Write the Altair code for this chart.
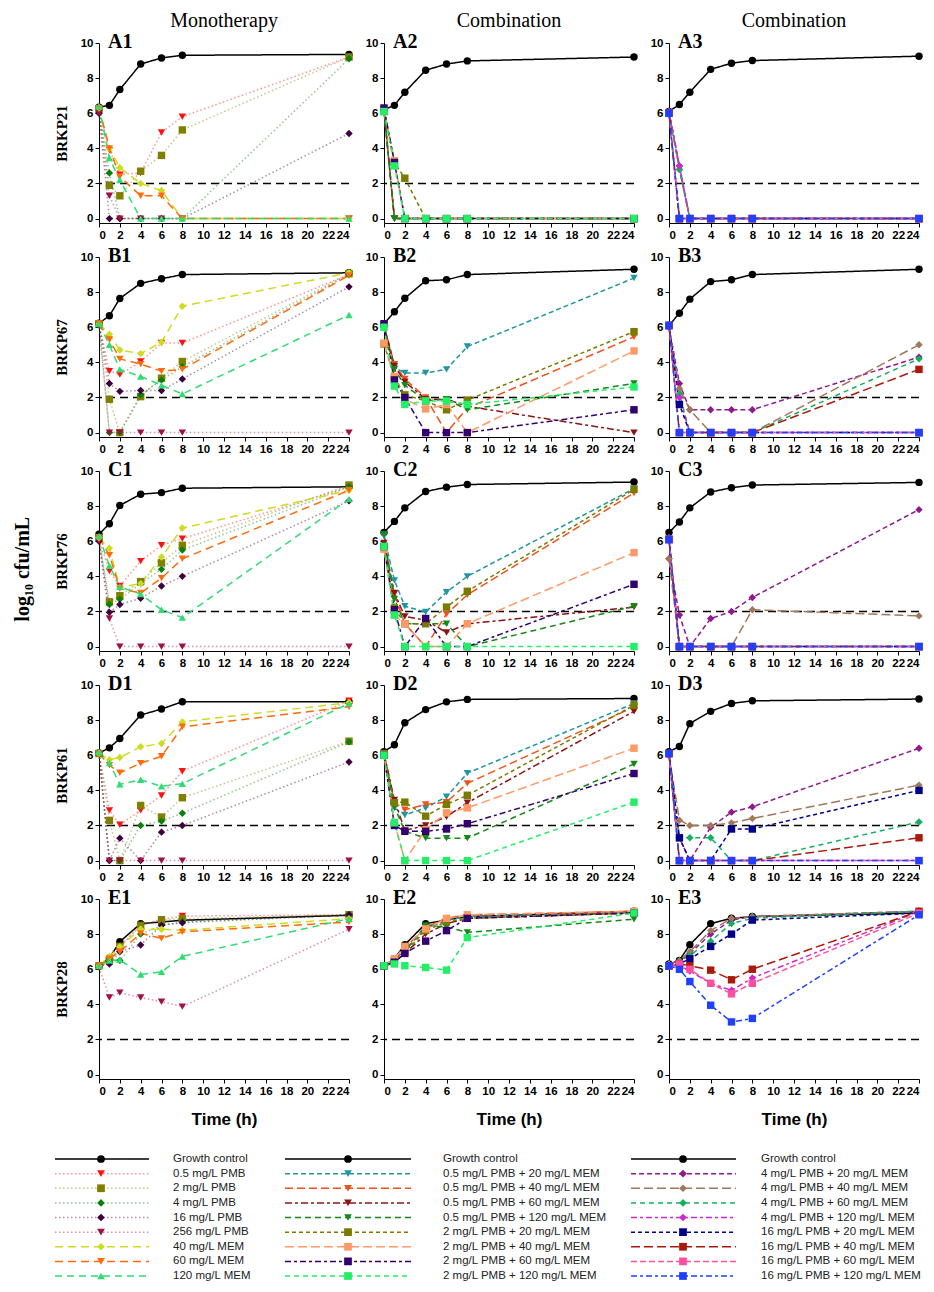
import altair as alt
import pandas as pd

# ---------------- data ----------------
T = [0, 1, 2, 4, 6, 8, 24]
X_TICKS = [0, 2, 4, 6, 8, 10, 12, 14, 16, 18, 20, 22, 24]
Y_TICKS = [0, 2, 4, 6, 8, 10]
THRESHOLD = [2]

MONO = ["Growth control", "0.5 mg/L PMB", "2 mg/L PMB", "4 mg/L PMB", "16 mg/L PMB",
        "256 mg/L PMB", "40 mg/L MEM", "60 mg/L MEM", "120 mg/L MEM"]
COMBO_LOW = ["Growth control", "0.5 mg/L PMB + 20 mg/L MEM", "0.5 mg/L PMB + 40 mg/L MEM",
             "0.5 mg/L PMB + 60 mg/L MEM", "0.5 mg/L PMB + 120 mg/L MEM",
             "2 mg/L PMB + 20 mg/L MEM", "2 mg/L PMB + 40 mg/L MEM",
             "2 mg/L PMB + 60 mg/L MEM", "2 mg/L PMB + 120 mg/L MEM"]
COMBO_HIGH = ["Growth control", "4 mg/L PMB + 20 mg/L MEM", "4 mg/L PMB + 40 mg/L MEM",
              "4 mg/L PMB + 60 mg/L MEM", "4 mg/L PMB + 120 mg/L MEM",
              "16 mg/L PMB + 20 mg/L MEM", "16 mg/L PMB + 40 mg/L MEM",
              "16 mg/L PMB + 60 mg/L MEM", "16 mg/L PMB + 120 mg/L MEM"]

ROW_LABELS = ["BRKP21", "BRKP67", "BRKP76", "BRKP61", "BRKP28"]
ROW_LETTERS = ["A", "B", "C", "D", "E"]
COL_TITLES = ["Monotherapy", "Combination", "Combination"]

# values in order of MONO / COMBO_LOW / COMBO_HIGH
A1 = [[6.35, 6.45, 7.35, 8.8, 9.15, 9.3, 9.35],
      [6.2, 3.9, 2.5, 2.6, 4.9, 5.8, 9.2],
      [6.2, 1.9, 1.3, 2.7, 3.6, 5.05, 9.2],
      [6.2, 2.6, 0, 0, 0, 0, 9.1],
      [6.0, 0, 0, 0, 0, 0, 4.85],
      [6.0, 1.3, 0, 0, 0, 0, 0],
      [6.3, 4.0, 2.9, 2.0, 1.6, 0, 0],
      [6.3, 4.0, 2.4, 1.3, 1.3, 0, 0],
      [6.4, 3.45, 2.2, 0, 0, 0, 0]]
A2 = [[6.2, 6.45, 7.2, 8.45, 8.8, 8.98, 9.2],
      [6.2, 0, 0, 0, 0, 0, 0],
      [6.2, 0, 0, 0, 0, 0, 0],
      [6.2, 0, 0, 0, 0, 0, 0],
      [6.1, 0, 0, 0, 0, 0, 0],
      [6.1, 3.2, 2.3, 0, 0, 0, 0],
      [6.2, 3.3, 0, 0, 0, 0, 0],
      [6.3, 3.2, 0, 0, 0, 0, 0],
      [6.1, 3.0, 0, 0, 0, 0, 0]]
A3 = [[6.1, 6.5, 7.2, 8.5, 8.85, 9.0, 9.25],
      [6.1, 3.0, 0, 0, 0, 0, 0],
      [6.1, 2.8, 0, 0, 0, 0, 0],
      [6.0, 2.8, 0, 0, 0, 0, 0],
      [6.1, 3.0, 0, 0, 0, 0, 0],
      [6.0, 0, 0, 0, 0, 0, 0],
      [6.0, 0, 0, 0, 0, 0, 0],
      [6.0, 0, 0, 0, 0, 0, 0],
      [6.0, 0, 0, 0, 0, 0, 0]]
B1 = [[6.23, 6.65, 7.64, 8.5, 8.76, 9.0, 9.1],
      [6.2, 3.5, 3.3, 4.05, 5.1, 5.1, 9.0],
      [6.2, 1.9, 0, 2.05, 3.1, 4.05, 9.05],
      [6.2, 0, 0, 2.15, 3.0, 3.75, 9.0],
      [6.2, 2.8, 2.35, 2.4, 2.4, 3.05, 8.3],
      [6.1, 0, 0, 0, 0, 0, 0],
      [6.2, 5.6, 4.7, 4.5, 5.15, 7.2, 9.1],
      [6.2, 5.3, 4.2, 3.9, 3.5, 3.6, 8.95],
      [6.2, 5.0, 3.6, 3.2, 2.7, 2.2, 6.7]]
B2 = [[6.2, 6.88, 7.65, 8.65, 8.7, 9.0, 9.3],
      [6.1, 3.7, 3.4, 3.4, 3.6, 4.9, 8.8],
      [6.1, 3.9, 3.05, 2.0, 0, 1.4, 5.45],
      [6.1, 3.8, 2.9, 1.9, 1.9, 1.5, 0],
      [6.0, 3.6, 2.7, 1.8, 1.9, 1.3, 2.8],
      [5.05, 3.15, 2.15, 1.8, 1.3, 1.85, 5.75],
      [5.1, 3.2, 1.9, 1.35, 1.6, 0, 4.65],
      [6.2, 3.0, 2.0, 0, 0, 0, 1.3],
      [6.0, 2.65, 1.6, 1.8, 1.8, 1.6, 2.6]]
B3 = [[6.1, 6.8, 7.6, 8.6, 8.7, 9.0, 9.3],
      [6.0, 2.8, 1.3, 1.3, 1.3, 1.3, 4.3],
      [6.0, 2.5, 1.3, 0, 0, 0, 5.0],
      [6.0, 2.2, 0, 0, 0, 0, 4.2],
      [6.0, 2.0, 0, 0, 0, 0, 0],
      [6.1, 1.6, 0, 0, 0, 0, 0],
      [6.1, 0, 0, 0, 0, 0, 3.6],
      [6.1, 0, 0, 0, 0, 0, 0],
      [6.1, 0, 0, 0, 0, 0, 0]]
C1 = [[6.4, 7.0, 8.04, 8.68, 8.77, 9.02, 9.1],
      [6.1, 4.3, 3.45, 4.87, 5.77, 6.15, 9.1],
      [6.2, 2.55, 2.9, 3.7, 4.77, 5.77, 9.2],
      [6.1, 2.4, 2.7, 3.6, 4.4, 5.5, 9.1],
      [6.0, 1.95, 2.4, 2.75, 3.45, 4.0, 8.3],
      [6.0, 1.6, 0, 0, 0, 0, 0],
      [6.2, 5.6, 3.35, 3.6, 5.1, 6.75, 8.9],
      [6.2, 5.2, 3.3, 3.05, 3.9, 5.0, 8.9],
      [6.3, 4.6, 3.4, 3.0, 2.1, 1.65, 8.4]]
C2 = [[6.5, 7.13, 7.9, 8.83, 9.08, 9.23, 9.37],
      [6.3, 3.77, 2.3, 1.97, 3.1, 4.0, 9.0],
      [5.6, 3.0, 1.3, 0, 1.85, 2.95, 8.75],
      [5.9, 3.05, 1.72, 1.5, 0.8, 1.3, 2.25],
      [6.4, 2.7, 1.3, 1.3, 1.3, 0, 2.3],
      [5.7, 2.2, 1.3, 1.3, 2.25, 3.15, 8.95],
      [5.55, 1.8, 1.3, 0, 0, 1.3, 5.35],
      [5.7, 2.1, 0, 1.6, 0, 0, 3.55],
      [5.7, 1.8, 0, 0, 0, 0, 0]]
C3 = [[6.5, 7.1, 7.9, 8.8, 9.05, 9.2, 9.35],
      [5.0, 1.8, 0, 1.6, 2.0, 2.8, 7.8],
      [5.0, 0, 0, 0, 0, 2.1, 1.75],
      [6.2, 0, 0, 0, 0, 0, 0],
      [6.2, 0, 0, 0, 0, 0, 0],
      [6.1, 0, 0, 0, 0, 0, 0],
      [6.1, 0, 0, 0, 0, 0, 0],
      [6.1, 0, 0, 0, 0, 0, 0],
      [6.1, 0, 0, 0, 0, 0, 0]]
D1 = [[6.13, 6.42, 6.95, 8.29, 8.63, 9.05, 9.05],
      [6.1, 2.86, 2.04, 2.86, 3.71, 5.09, 9.1],
      [6.1, 2.29, 0, 3.14, 2.48, 3.58, 6.8],
      [6.1, 0, 0, 2.0, 2.25, 2.7, 6.76],
      [6.1, 0, 1.28, 0, 1.62, 2.0, 5.62],
      [6.1, 0, 0, 0, 0, 0, 0],
      [6.1, 5.75, 5.87, 6.48, 6.67, 7.9, 9.0],
      [6.1, 5.43, 5.0, 5.55, 5.94, 7.62, 8.76],
      [6.2, 5.56, 4.34, 4.6, 4.23, 4.38, 8.95]]
D2 = [[6.2, 6.6, 7.85, 8.6, 9.04, 9.18, 9.23],
      [6.1, 3.0, 2.6, 3.0, 3.64, 4.98, 8.95],
      [6.1, 3.3, 2.9, 3.2, 3.33, 4.4, 8.75],
      [6.1, 3.45, 1.72, 2.0, 2.5, 3.3, 8.5],
      [6.0, 3.07, 1.67, 1.28, 1.28, 1.28, 5.5],
      [6.1, 3.3, 3.33, 2.53, 3.2, 3.72, 8.85],
      [6.0, 2.15, 0, 1.76, 2.72, 3.0, 6.4],
      [6.0, 2.0, 1.67, 1.67, 1.8, 2.1, 4.96],
      [6.0, 2.15, 0, 0, 0, 0, 3.33]]
D3 = [[6.2, 6.5, 7.8, 8.5, 8.95, 9.1, 9.2],
      [6.1, 1.3, 0, 1.9, 2.76, 3.06, 6.4],
      [6.0, 2.3, 2.0, 2.0, 2.15, 2.4, 4.3],
      [6.0, 1.3, 1.3, 1.3, 0, 0, 2.2],
      [6.0, 0, 0, 0, 0, 0, 0],
      [6.1, 1.3, 0, 0, 1.8, 1.8, 4.0],
      [6.1, 0, 0, 0, 0, 0, 1.3],
      [6.1, 0, 0, 0, 0, 0, 0],
      [6.1, 0, 0, 0, 0, 0, 0]]
E1 = [[6.17, 6.64, 7.57, 8.6, 8.69, 8.79, 9.07],
      [6.1, 6.4, 7.3, 8.5, 8.84, 9.03, 9.1],
      [6.2, 6.5, 7.3, 8.5, 8.8, 8.88, 9.1],
      [6.2, 6.4, 6.5, 8.0, 8.5, 8.7, 9.1],
      [6.2, 6.3, 7.0, 7.38, 8.5, 8.65, 9.1],
      [6.1, 4.39, 4.67, 4.39, 4.15, 3.87, 8.28],
      [6.2, 6.73, 7.29, 8.28, 8.28, 8.22, 8.88],
      [6.2, 6.6, 7.0, 8.04, 7.76, 8.13, 8.69],
      [6.2, 6.49, 6.54, 5.7, 5.85, 6.73, 8.88]]
E2 = [[6.2, 6.6, 7.4, 8.6, 8.8, 9.0, 9.3],
      [6.2, 6.5, 7.1, 8.3, 8.8, 9.0, 9.25],
      [6.2, 6.6, 7.2, 8.4, 8.9, 9.1, 9.3],
      [6.2, 6.4, 6.9, 8.0, 8.6, 8.9, 9.2],
      [6.2, 6.5, 7.0, 8.5, 8.4, 8.1, 8.85],
      [6.2, 6.5, 7.0, 8.2, 8.7, 8.9, 9.2],
      [6.2, 6.6, 7.3, 8.3, 8.9, 9.1, 9.3],
      [6.2, 6.4, 6.9, 7.6, 8.2, 8.9, 9.2],
      [6.2, 6.3, 6.2, 6.1, 5.95, 7.8, 9.2]]
E3 = [[6.3, 6.5, 7.4, 8.6, 8.9, 9.0, 9.2],
      [6.3, 6.4, 6.9, 8.0, 8.8, 9.0, 9.3],
      [6.3, 6.5, 7.0, 8.2, 8.9, 9.0, 9.3],
      [6.2, 6.4, 6.8, 7.6, 8.6, 8.9, 9.3],
      [6.2, 6.2, 5.9, 5.2, 4.8, 5.5, 9.3],
      [6.2, 6.3, 6.6, 7.3, 8.0, 8.8, 9.2],
      [6.2, 6.3, 6.2, 5.95, 5.4, 6.0, 9.3],
      [6.2, 6.3, 6.0, 5.2, 4.6, 5.2, 9.2],
      [6.2, 6.0, 5.3, 3.95, 3.0, 3.2, 9.1]]

PANELS = [[A1, A2, A3], [B1, B2, B3], [C1, C2, C3], [D1, D2, D3], [E1, E2, E3]]
COL_SERIES = [MONO, COMBO_LOW, COMBO_HIGH]

# ---------------- styles ----------------
DOT = [1.5, 2.5]
STYLE = {
    "Growth control": ("#000000", "circle", [1, 0], 1.0),
    "0.5 mg/L PMB": ("#ff1010", "triangle-down", DOT, 0.45),
    "2 mg/L PMB": ("#7f7f00", "square", DOT, 0.45),
    "4 mg/L PMB": ("#0a800a", "diamond", DOT, 0.45),
    "16 mg/L PMB": ("#3f0040", "diamond", DOT, 0.45),
    "256 mg/L PMB": ("#a01040", "triangle-down", DOT, 0.45),
    "40 mg/L MEM": ("#cddc22", "diamond", [8, 5], 1.0),
    "60 mg/L MEM": ("#ff6a0a", "triangle-down", [8, 5], 1.0),
    "120 mg/L MEM": ("#2fdc72", "triangle-up", [7, 5], 1.0),
    "0.5 mg/L PMB + 20 mg/L MEM": ("#2196a0", "triangle-down", [5, 3], 1.0),
    "0.5 mg/L PMB + 40 mg/L MEM": ("#f0501a", "triangle-down", [8, 4], 1.0),
    "0.5 mg/L PMB + 60 mg/L MEM": ("#8c1414", "triangle-down", [7, 3, 3, 3], 1.0),
    "0.5 mg/L PMB + 120 mg/L MEM": ("#16881a", "triangle-down", [6, 4], 1.0),
    "2 mg/L PMB + 20 mg/L MEM": ("#7a7a00", "square", [4, 3], 1.0),
    "2 mg/L PMB + 40 mg/L MEM": ("#ff9966", "square", [9, 4], 1.0),
    "2 mg/L PMB + 60 mg/L MEM": ("#330070", "square", [6, 3, 3, 3], 1.0),
    "2 mg/L PMB + 120 mg/L MEM": ("#22ee66", "square", [5, 4], 1.0),
    "4 mg/L PMB + 20 mg/L MEM": ("#8e1a8e", "diamond", [5, 3], 1.0),
    "4 mg/L PMB + 40 mg/L MEM": ("#a0785a", "diamond", [9, 4], 1.0),
    "4 mg/L PMB + 60 mg/L MEM": ("#12b060", "diamond", [5, 4], 1.0),
    "4 mg/L PMB + 120 mg/L MEM": ("#cc2acc", "diamond", [6, 3, 3, 3], 1.0),
    "16 mg/L PMB + 20 mg/L MEM": ("#000088", "square", [4, 3], 1.0),
    "16 mg/L PMB + 40 mg/L MEM": ("#aa1a0a", "square", [9, 4], 1.0),
    "16 mg/L PMB + 60 mg/L MEM": ("#ff4fa0", "square", [6, 3], 1.0),
    "16 mg/L PMB + 120 mg/L MEM": ("#2040ff", "square", [6, 3, 3, 3], 1.0),
}
ALL = list(STYLE.keys())
COLOR_ENC = alt.Color("series:N", scale=alt.Scale(domain=ALL, range=[STYLE[k][0] for k in ALL]), legend=None)
SHAPE_ENC = alt.Shape("series:N", scale=alt.Scale(domain=ALL, range=[STYLE[k][1] for k in ALL]), legend=None)
DASH_ENC = alt.StrokeDash("series:N", scale=alt.Scale(domain=ALL, range=[STYLE[k][2] for k in ALL]), legend=None)
OPAC_ENC = alt.Opacity("lop:Q", scale=None)

SANS = "Liberation Sans"
SERIF = "Liberation Serif"
W, H = 250, 180


def panel(r, c):
    names = COL_SERIES[c]
    vals = PANELS[r][c]
    recs = []
    for name, series in zip(names, vals):
        for t, v in zip(T, series):
            recs.append({"series": name, "t": t, "v": v, "lop": STYLE[name][3]})
    df = pd.DataFrame(recs)
    last = r == len(ROW_LABELS) - 1
    x = alt.X("t:Q", scale=alt.Scale(domain=[0, 24], nice=False),
              axis=alt.Axis(values=X_TICKS, title="Time (h)" if last else None,
                            titleFont=SANS, titleFontSize=17, titleFontWeight="bold",
                            titleColor="black", titlePadding=15))
    y = alt.Y("v:Q", scale=alt.Scale(domain=[-0.25, 10], nice=False),
              axis=alt.Axis(values=Y_TICKS, title=ROW_LABELS[r] if c == 0 else None,
                            titleFont=SERIF, titleFontSize=15, titleFontWeight="bold",
                            titleColor="black", titlePadding=11))
    rule = alt.Chart(pd.DataFrame({"v": THRESHOLD})).mark_rule(
        color="black", strokeDash=[8, 5], strokeWidth=1.4).encode(y=y)
    lines = alt.Chart(df).mark_line(strokeWidth=1.5).encode(
        x=x, y=y, color=COLOR_ENC, strokeDash=DASH_ENC, opacity=OPAC_ENC, detail="series:N")
    pts = alt.Chart(df).mark_point(filled=True, size=55, opacity=1).encode(
        x=x, y=y, color=COLOR_ENC, shape=SHAPE_ENC)
    lab = alt.Chart(pd.DataFrame({"label": [ROW_LETTERS[r] + str(c + 1)]})).mark_text(
        font=SERIF, fontWeight="bold", fontSize=20, align="left", baseline="middle", color="black"
    ).encode(x=alt.value(9), y=alt.value(-1), text="label:N")
    ch = alt.layer(rule, lines, pts, lab).properties(width=W, height=H)
    if r == 0:
        ch = ch.properties(title=alt.TitleParams(COL_TITLES[c], font=SERIF, fontSize=20,
                                                 fontWeight="normal", color="black", offset=1))
    return ch


rows = [alt.hconcat(*[panel(r, c) for c in range(3)], spacing=12) for r in range(5)]
grid = alt.vconcat(*rows, spacing=5,
                   title=alt.TitleParams("log₁₀ cfu/mL", orient="left", anchor="middle",
                                         font=SERIF, fontSize=20, fontWeight="bold",
                                         color="black", offset=21))


def legend_block(names, x0, x1, xm, xt, width):
    df = pd.DataFrame({"series": names, "row": list(range(len(names))),
                       "lop": [STYLE[n][3] for n in names]})
    y = alt.Y("row:Q", scale=alt.Scale(domain=[0, 8], reverse=True), axis=None)
    base = alt.Chart(df)
    ln = base.mark_rule(strokeWidth=1.5).encode(
        x=alt.value(x0), x2=alt.value(x1), y=y, color=COLOR_ENC, strokeDash=DASH_ENC, opacity=OPAC_ENC)
    pt = base.mark_point(filled=True, size=60, opacity=1).encode(
        x=alt.value(xm), y=y, color=COLOR_ENC, shape=SHAPE_ENC)
    tx = base.mark_text(align="left", baseline="middle", font=SANS, fontSize=11.5, color="#222222").encode(
        x=alt.value(xt), y=y, text="series:N")
    return alt.layer(ln, pt, tx).properties(width=width, height=117)


legend = alt.hconcat(
    legend_block(MONO, -44, 50, 2, 74, 185),
    legend_block(COMBO_LOW, 0, 126, 63, 158, 345),
    legend_block(COMBO_HIGH, 0, 105, 52, 130, 291),
    spacing=0)

chart = alt.vconcat(grid, legend, spacing=25).properties(
    padding={"left": 5, "top": 3, "right": 0, "bottom": 0}
).configure_view(stroke=None).configure_axis(
    grid=False, domainColor="black", tickColor="black", tickSize=4, labelFont=SANS,
    labelFontSize=11.5, labelFontWeight="bold", labelColor="black", labelPadding=2,
    domainWidth=1)

chart.save("out.html", embed_options={"renderer": "svg", "actions": False})
